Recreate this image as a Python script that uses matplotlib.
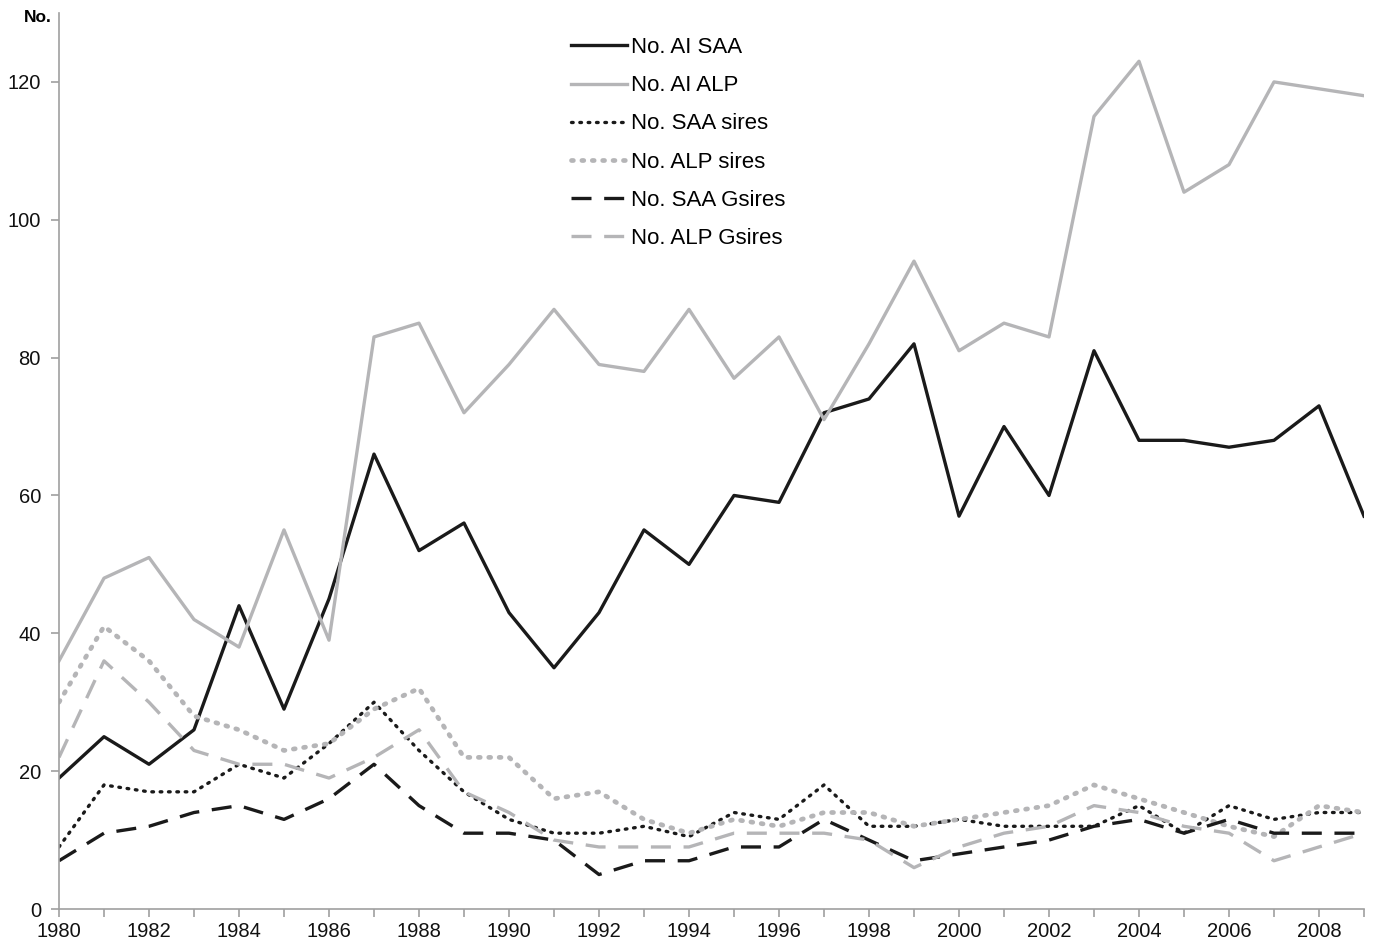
import matplotlib
matplotlib.use('Agg')
import matplotlib.pyplot as plt

plt.rcParams['font.family'] = ['Liberation Sans', 'DejaVu Sans']

years = list(range(1980, 2010))

ai_saa = [19, 25, 21, 26, 44, 29, 45, 66, 52, 56, 43, 35, 43, 55, 50,
          60, 59, 72, 74, 82, 57, 70, 60, 81, 68, 68, 67, 68, 73, 57]
ai_alp = [36, 48, 51, 42, 38, 55, 39, 83, 85, 72, 79, 87, 79, 78, 87,
          77, 83, 71, 82, 94, 81, 85, 83, 115, 123, 104, 108, 120, 119, 118]
saa_sires = [9, 18, 17, 17, 21, 19, 24, 30, 23, 17, 13, 11, 11, 12, 10.5,
             14, 13, 18, 12, 12, 13, 12, 12, 12, 15, 11, 15, 13, 14, 14]
alp_sires = [30, 41, 36, 28, 26, 23, 24, 29, 32, 22, 22, 16, 17, 13, 11,
             13, 12, 14, 14, 12, 13, 14, 15, 18, 16, 14, 12, 10.5, 15, 14]
saa_gsires = [7, 11, 12, 14, 15, 13, 16, 21, 15, 11, 11, 10, 5, 7, 7,
              9, 9, 13, 10, 7, 8, 9, 10, 12, 13, 11, 13, 11, 11, 11]
alp_gsires = [22, 36, 30, 23, 21, 21, 19, 22, 26, 17, 14, 10, 9, 9, 9,
              11, 11, 11, 10, 6, 9, 11, 12, 15, 14, 12, 11, 7, 9, 11]

black = '#1a1a1a'
grey = '#b5b5b7'

fig = plt.figure(figsize=(13.74, 9.47), dpi=100)
ax = fig.add_axes([59 / 1374, 38 / 947, 1305 / 1374, 896 / 947])

ax.plot(years, ai_saa, color=black, lw=2.4, label='No. AI SAA')
ax.plot(years, ai_alp, color=grey, lw=2.4, label='No. AI ALP')
ax.plot(years, saa_sires, color=black, lw=2.4, linestyle=(0, (0.5, 2.0)),
        dash_capstyle='round', label='No. SAA sires')
ax.plot(years, alp_sires, color=grey, lw=3.4, linestyle=(0, (0.4, 1.8)),
        dash_capstyle='round', label='No. ALP sires')
ax.plot(years, saa_gsires, color=black, lw=2.4, linestyle=(0, (6, 3.8)),
        label='No. SAA Gsires')
ax.plot(years, alp_gsires, color=grey, lw=2.4, linestyle=(0, (6, 3.8)),
        label='No. ALP Gsires')

ax.set_xlim(1980, 2009)
ax.set_ylim(0, 130)
ax.set_xticks(years)
ax.set_xticklabels([str(y) if y % 2 == 0 else '' for y in years])
ax.set_yticks(range(0, 121, 20))

for s in ['top', 'right']:
    ax.spines[s].set_visible(False)
for s in ['left', 'bottom']:
    ax.spines[s].set_color('#a0a0a0')
    ax.spines[s].set_linewidth(1.2)
ax.tick_params(axis='both', colors='#a0a0a0', labelcolor='#111111',
               labelsize=14.5, length=6, width=1.2)
ax.tick_params(axis='y', pad=7)

fig.text(52 / 1374, 1 - 18 / 947, 'No.', fontsize=12.5, fontweight='bold',
         ha='right', va='center')

leg = ax.legend(loc='upper left', bbox_to_anchor=(512 / 1305, 0.973),
                frameon=False, fontsize=16, handlelength=2.5,
                handletextpad=0.2, labelspacing=0.77,
                borderpad=0, borderaxespad=0)

fig.savefig('out.png', dpi=100)
